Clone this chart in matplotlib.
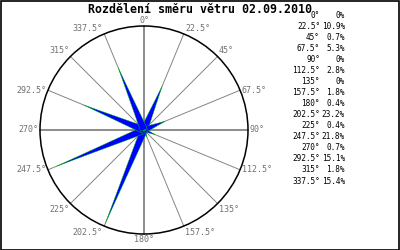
import numpy as np
import matplotlib
matplotlib.use("Agg")
import matplotlib.pyplot as plt
from matplotlib.patches import Circle, Polygon, Rectangle

# data
directions = [0, 22.5, 45, 67.5, 90, 112.5, 135, 157.5,
              180, 202.5, 225, 247.5, 270, 292.5, 315, 337.5]
percent = [0, 10.9, 0.7, 5.3, 0, 2.8, 0, 1.8,
           0.4, 23.2, 0.4, 21.8, 0.7, 15.1, 1.8, 15.4]
title = "Rozdělení směru větru 02.09.2010"

# layout (pixel units, centre of the rose at 0,0)
W, H = 400, 250
CX, CY = 144, 130
R = 104
R_MAX = 101     # length of the biggest wedge
HALF_W = 3.6    # half width of wedge base

fig = plt.figure(figsize=(W / 100, H / 100), dpi=100)
ax = fig.add_axes([0, 0, 1, 1])
ax.set_xlim(-CX, W - CX)
ax.set_ylim(-(H - CY), CY)
ax.axis("off")

# frame around the picture
ax.add_patch(Rectangle((-CX + 0.5, -(H - CY) + 0.5), W - 1.5, H - 1.5,
                       fill=False, edgecolor="black", linewidth=1.2))

# spokes and circle
for d in directions:
    a = np.radians(d)
    x, y = R * np.sin(a), R * np.cos(a)
    main = d % 90 == 0
    ax.plot([0, x], [0, y], color="#6e6e6e" if main else "#858585",
            linewidth=1.1 if main else 0.7, zorder=1)
ax.add_patch(Circle((0, 0), R, fill=False, edgecolor="black", linewidth=1.1, zorder=2))

# angle labels
for d in directions:
    a = np.radians(d)
    s, c = np.sin(a), np.cos(a)
    x, y = R * s, R * c
    ha = "left" if s > 0.01 else ("right" if s < -0.01 else "center")
    va = "bottom" if c > 0.5 else ("top" if c < -0.5 else "center")
    dx = 1.5 if ha == "left" else (-1.5 if ha == "right" else 0)
    dy = 1.0 if va == "bottom" else (-1.5 if va == "top" else 0)
    ax.text(x + dx, y + dy, f"{d:g}°", ha=ha, va=va, color="#707070",
            fontsize=6, family="DejaVu Sans Mono")

# wedges
pmax = max(percent)
for d, p in zip(directions, percent):
    if p <= 0:
        continue
    a = np.radians(d)
    ux, uy = np.sin(a), np.cos(a)
    px, py = -uy, ux
    L = R_MAX * p / pmax
    hw = HALF_W * min(1.0, p / 6)
    pts = [(px * hw, py * hw), (ux * L, uy * L), (-px * hw, -py * hw)]
    ax.add_patch(Polygon(pts, closed=True, facecolor="#0000ff",
                         edgecolor="#00cc00", linewidth=0.3, zorder=3))

# title
ax.text(200 - CX, CY - 9.5, title, ha="center", va="center", fontsize=8.4,
        fontweight="bold", family="DejaVu Sans Mono", color="black")

# table on the right
for i, (d, p) in enumerate(zip(directions, percent)):
    y = CY - 15 - i * 11.07
    ax.text(320 - CX, y, f"{d:g}°", ha="right", va="center", fontsize=5.6,
            family="DejaVu Sans Mono", color="black")
    ax.text(345 - CX, y, f"{p:g}%", ha="right", va="center", fontsize=5.6,
            family="DejaVu Sans Mono", color="black")

fig.savefig("out.png", dpi=100)
